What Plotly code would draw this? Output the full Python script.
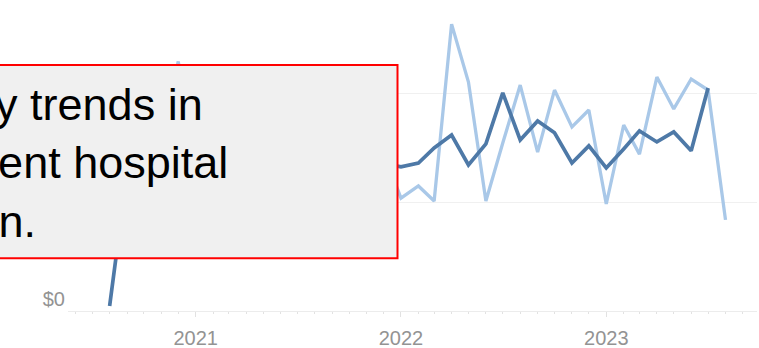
import plotly.graph_objects as go

# ---- data (values in $K) ----
dark_start = "2020-08-01"
dark_values = [23, 635, 610, 660, 700, 640, 680, 720, 650, 700, 690, 730, 660, 710, 690, 700, 680,
               664, 682, 751, 811, 673, 770, 1005, 788, 876, 821, 682, 761,
               659, 747, 830, 779, 825, 738, 1028]
light_start = "2020-09-01"
light_values = [700, 820, 760, 1150, 700, 880, 620, 900, 780, 960, 700, 850, 640, 920, 800, 730,
                520, 576, 507, 1322, 1055, 507, 774, 1041, 732, 1018, 848, 926,
                493, 857, 723, 1078, 931, 1069, 1018, 420]
year_ticks = ["2021-01-01", "2022-01-01", "2023-01-01"]
year_labels = ["2021", "2022", "2023"]
y_ticks = [0, 500, 1000]
y_labels = ["$0", "", ""]
note_lines = ["Monthly trends in", "outpatient hospital", "utilization."]


def month_list(start, n):
    y, m = int(start[:4]), int(start[5:7])
    out = []
    for _ in range(n):
        out.append(f"{y:04d}-{m:02d}-01")
        m += 1
        if m > 12:
            m = 1
            y += 1
    return out


dark_x = month_list(dark_start, len(dark_values))
light_x = month_list(light_start, len(light_values))

W, H = 759, 348
ML, MR, MT, MB = 68, 2, 0, 37
PW, PH = W - ML - MR, H - MT - MB


def px_x(p):
    return (p - ML) / PW


def px_y(p):
    return (H - MB - p) / PH


fig = go.Figure()
fig.add_trace(go.Scatter(x=light_x, y=light_values, mode="lines",
                         line=dict(color="#a9c8e8", width=3.3), showlegend=False))
fig.add_trace(go.Scatter(x=dark_x, y=dark_values, mode="lines",
                         line=dict(color="#4e79a7", width=3.7), showlegend=False))

fig.update_layout(
    width=W, height=H,
    margin=dict(l=ML, r=MR, t=MT, b=MB, autoexpand=False),
    paper_bgcolor="white", plot_bgcolor="white",
    font=dict(family="Liberation Sans, Arial, sans-serif", color="#939393", size=20),
    xaxis=dict(
        type="date", range=["2020-05-19", "2023-09-26"], automargin=False,
        tickmode="array", tickvals=year_ticks, ticktext=year_labels,
        ticks="outside", ticklen=5, tickcolor="#e2e2e2", tickwidth=1,
        showgrid=False, showline=True, linecolor="#ececec", linewidth=1,
        zeroline=False, ticklabelstandoff=4,
        minor=dict(dtick="M1", tick0="2020-01-01", ticks="outside", ticklen=2,
                   tickcolor="#e2e2e2", showgrid=False),
    ),
    yaxis=dict(
        range=[0, 1433], tickmode="array", tickvals=y_ticks, ticktext=y_labels,
        automargin=False,
        showgrid=True, gridcolor="#f0f0f0", gridwidth=1,
        zeroline=False, showline=False, ticks="", ticklabelshift=-12,
        ticklabelstandoff=2,
    ),
)

fig.add_shape(type="rect", xref="paper", yref="paper", layer="above",
              x0=-0.2, x1=px_x(397.5), y0=px_y(258.3), y1=px_y(65),
              fillcolor="#f0f0f0", line=dict(color="#ff0000", width=2))

rights = [204, 229.3, 37.3]
centers = [104.4, 162.7, 221.1]
for txt, r, c in zip(note_lines, rights, centers):
    fig.add_annotation(text=txt, xref="paper", yref="paper", x=px_x(r), y=px_y(c),
                       xanchor="right", yanchor="middle", showarrow=False, borderpad=0,
                       font=dict(family="Liberation Sans, Arial, sans-serif", size=45, color="#000000"))

fig.write_html("out.html", config={"displayModeBar": False},
               post_script="document.body.style.margin='0px';document.body.style.overflow='hidden';")
